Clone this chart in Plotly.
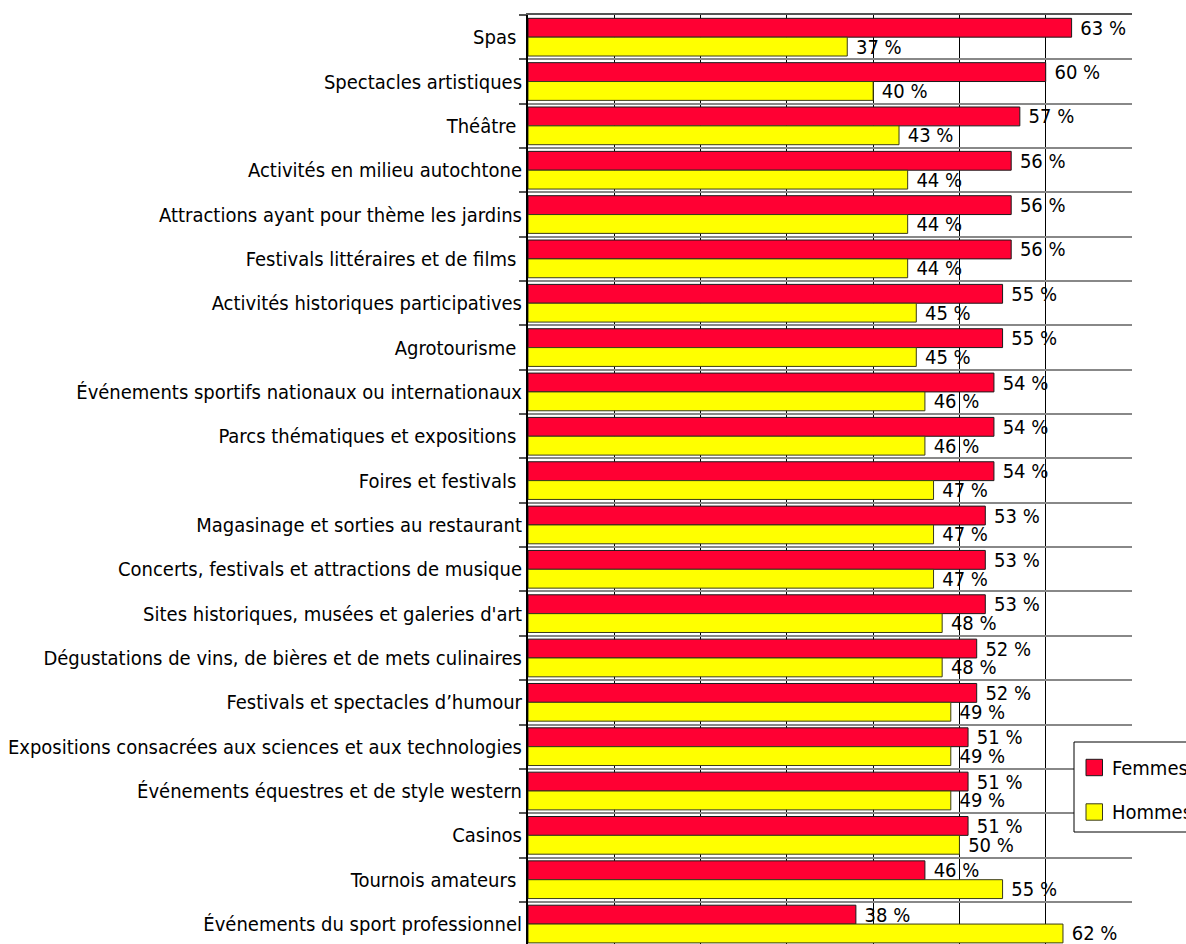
import plotly.graph_objects as go

# Activity categories, listed top to bottom
categories = [
    "Spas\u00a0",
    "Spectacles artistiques",
    "Théâtre\u00a0",
    "Activités en milieu autochtone",
    "Attractions ayant pour thème les jardins",
    "Festivals littéraires et de films\u00a0",
    "Activités historiques participatives",
    "Agrotourisme\u00a0",
    "Événements sportifs nationaux ou internationaux",
    "Parcs thématiques et expositions\u00a0",
    "Foires et festivals\u00a0",
    "Magasinage et sorties au restaurant",
    "Concerts, festivals et attractions de musique",
    "Sites historiques, musées et galeries d'art",
    "Dégustations de vins, de bières et de mets culinaires",
    "Festivals et spectacles d’humour",
    "Expositions consacrées aux sciences et aux technologies",
    "Événements équestres et de style western",
    "Casinos",
    "Tournois amateurs\u00a0",
    "Événements du sport professionnel",
]

# Share of participants (%) by gender
femmes = [63, 60, 57, 56, 56, 56, 55, 55, 54, 54, 54, 53, 53, 53, 52, 52, 51, 51, 51, 46, 38]
hommes = [37, 40, 43, 44, 44, 44, 45, 45, 46, 46, 47, 47, 47, 48, 48, 49, 49, 49, 50, 55, 62]

series_names = ["Femmes", "Hommes"]
series_colors = ["#FF0033", "#FFFF00"]
series_edges = ["#1a1a1a", "#3a3a1a"]

FONT = "DejaVu Sans Condensed, Liberation Sans Narrow, Arial Narrow, sans-serif"
FSIZE = 20
W, H = 1186, 944
ML, MR, MT, MB = 528, 54, 15, 0

fig = go.Figure()
for name, vals, col, edge in zip(series_names, [femmes, hommes], series_colors, series_edges):
    fig.add_trace(go.Bar(
        name=name,
        y=categories,
        x=vals,
        orientation="h",
        marker=dict(color=col, line=dict(color=edge, width=1)),
        texttemplate="\u00a0%{x} %",
        textposition="outside",
        constraintext="none",
        textfont=dict(family=FONT, size=FSIZE, color="#000000"),
        cliponaxis=False,
        showlegend=False,
    ))

# Legend box drawn in pixel space, converted to paper coordinates
pw, ph = W - ML - MR, H - MT - MB


def px(x):
    return (x - ML) / pw


def py(y):
    return (H - MB - y) / ph


shapes = [
    dict(type="rect", xref="paper", yref="paper",
         x0=px(1074), x1=px(1230), y0=py(832), y1=py(742),
         fillcolor="white", line=dict(color="black", width=1), layer="above"),
]
annotations = []
for i, (name, col, edge) in enumerate(zip(series_names, series_colors, series_edges)):
    cy = 767.5 + i * 44.5
    shapes.append(dict(type="rect", xref="paper", yref="paper",
                       x0=px(1086), x1=px(1102.5), y0=py(cy + 8.2), y1=py(cy - 8.2),
                       fillcolor=col, line=dict(color=edge, width=1), layer="above"))
    annotations.append(dict(xref="paper", yref="paper", x=px(1110), y=py(cy),
                            xanchor="left", yanchor="middle", text=name, showarrow=False,
                            font=dict(family=FONT, size=FSIZE, color="#000000")))

fig.update_layout(
    width=W, height=H,
    margin=dict(l=ML, r=MR, t=MT, b=MB, autoexpand=False),
    paper_bgcolor="white", plot_bgcolor="white",
    barmode="group", bargap=0.15, bargroupgap=0,
    shapes=shapes, annotations=annotations,
    showlegend=False,
    xaxis=dict(
        range=[0, 70], dtick=10, side="top",
        showgrid=True, gridcolor="#000000", gridwidth=1,
        showticklabels=False, ticks="",
        showline=True, linecolor="#555555", linewidth=1.5,
        zeroline=False,
    ),
    yaxis=dict(
        type="category",
        range=[20.45, -0.5],
        tickson="boundaries",
        ticks="outside", ticklen=7, tickcolor="#555555", tickwidth=1.5,
        showgrid=True, gridcolor="#888888", gridwidth=2,
        showline=True, linecolor="#000000", linewidth=2,
        tickfont=dict(family=FONT, size=FSIZE, color="#000000"),
        ticklabelstandoff=0,
    ),
)

fig.write_html("out.html")
